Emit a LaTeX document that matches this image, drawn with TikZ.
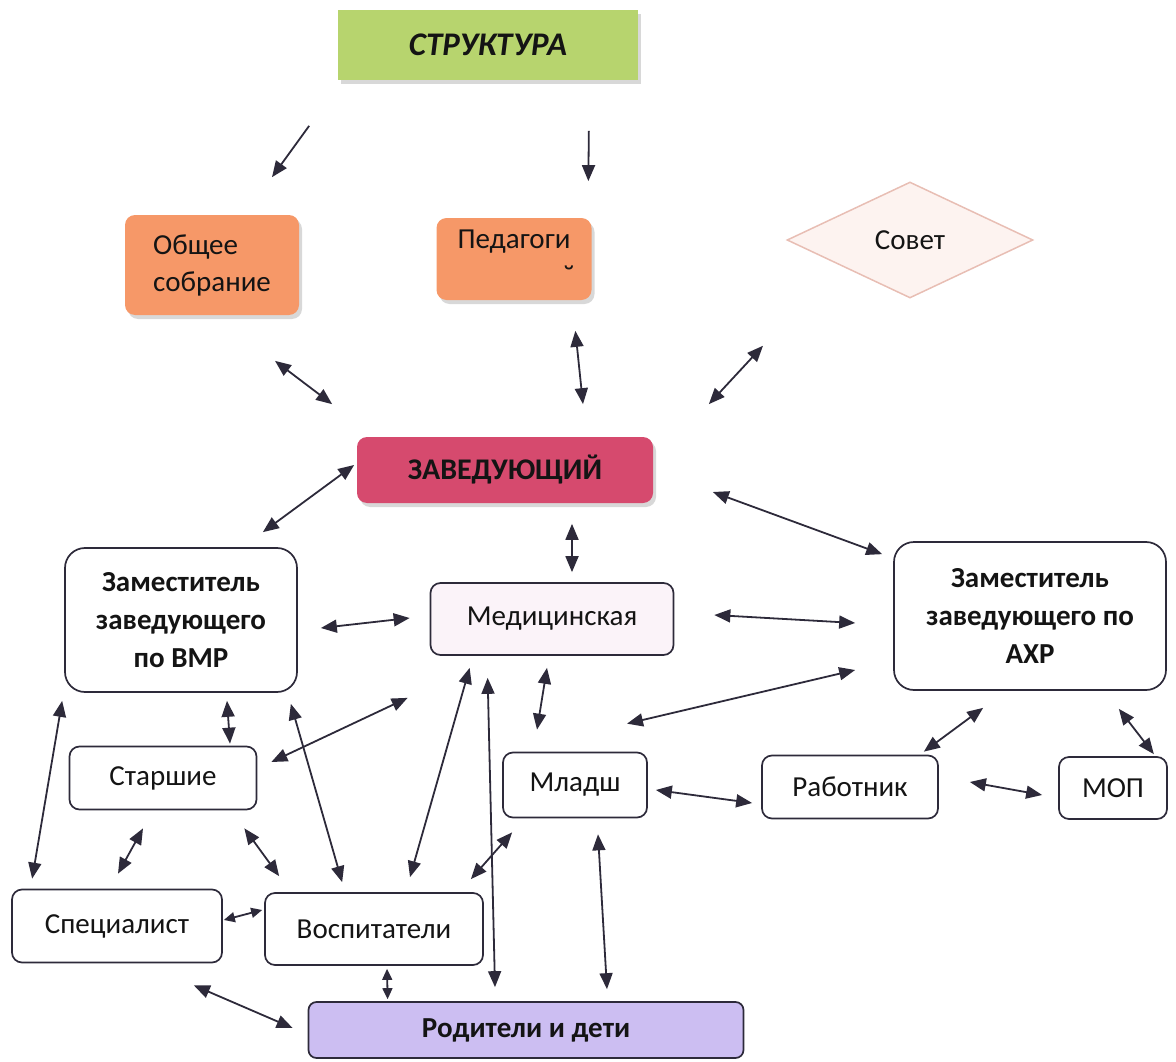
\documentclass[tikz,border=0pt]{standalone}
\usepackage{fontspec}
\setmainfont{Carlito}
\usetikzlibrary{shapes.geometric,arrows.meta,shadows}

\definecolor{strgreen}{RGB}{183,212,110}
\definecolor{orgorange}{RGB}{246,152,104}
\definecolor{headred}{RGB}{214,74,110}
\definecolor{medpink}{RGB}{251,243,249}
\definecolor{famlilac}{RGB}{204,190,242}
\definecolor{sovfill}{RGB}{253,243,240}
\definecolor{sovedge}{RGB}{232,190,180}
\definecolor{inkgray}{RGB}{45,42,58}

\begin{document}
\begin{tikzpicture}[x=1pt, y=-1pt, >={Triangle[length=16pt,width=13pt]}]
	\tikzstyle{block} = [draw=inkgray, line width=1.7pt, rectangle, rounded corners=10pt, fill=white, inner sep=0pt, align=center, text=black!92, font=\fontsize{29}{37}\selectfont]
	\tikzstyle{deputy} = [block, rounded corners=20pt, font=\bfseries\fontsize{29}{38}\selectfont]
	\tikzstyle{tinted} = [block, draw=none, drop shadow={shadow xshift=3pt, shadow yshift=-4pt, fill=black!30}]
	\tikzstyle{link} = [<->, draw=inkgray, line width=1.8pt]
	\tikzstyle{short} = [link, >={Triangle[length=11pt,width=10pt]}]

	\useasboundingbox (0,0) rectangle (1176,1062);

	\node [tinted, rounded corners=0pt, fill=strgreen, minimum width=300pt, minimum height=70pt, font=\bfseries\itshape\fontsize{33}{38}\selectfont] (struct) at (488,45) {СТРУКТУРА};
	\node [tinted, fill=orgorange, minimum width=174pt, minimum height=100pt, align=left] (obshee) at (212,265) {Общее\\собрание};
	\node [tinted, fill=orgorange, minimum width=155pt, minimum height=82pt] (pedagog) at (514,259) {Педагоги\\[2pt]{\fontsize{32}{24}\selectfont\hspace*{110pt}˘}};
	\node [diamond, draw=sovedge, line width=1.5pt, fill=sovfill, minimum width=246pt, minimum height=116pt, inner sep=0pt, text=black!92, font=\fontsize{29}{37}\selectfont] (sovet) at (910,240) {Совет};
	\node [tinted, fill=headred, minimum width=296pt, minimum height=66pt, font=\bfseries\fontsize{30}{34}\selectfont] (zav) at (505,470) {ЗАВЕДУЮЩИЙ};

	\node [deputy, minimum width=232pt, minimum height=144pt] (vmr) at (181,620) {Заместитель\\заведующего\\по ВМР};
	\node [block, fill=medpink, minimum width=243pt, minimum height=72pt] (med) at (552,619) {Медицинская};
	\node [deputy, minimum width=272pt, minimum height=148pt] (ahr) at (1030,616) {Заместитель\\заведующего по\\АХР};

	\node [block, minimum width=187pt, minimum height=63pt] (starsh) at (163,778) {Старшие};
	\node [block, minimum width=144pt, minimum height=65pt] (mladsh) at (575,785) {Младш};
	\node [block, minimum width=176pt, minimum height=63pt] (rabot) at (850,787) {Работник};
	\node [block, minimum width=108pt, minimum height=62pt] (mop) at (1113,788) {МОП};
	\node [block, minimum width=210pt, minimum height=73pt] (spec) at (117,926) {Специалист};
	\node [block, minimum width=218pt, minimum height=72pt] (vosp) at (374,929) {Воспитатели};
	\node [block, fill=famlilac, rounded corners=8pt, minimum width=435pt, minimum height=56pt, font=\bfseries\fontsize{29}{34}\selectfont] (family) at (526,1030) {Родители и дети};

	\draw [->, draw=inkgray, line width=1.8pt] ([shift={(-28,45)}]struct.south west) -- ([shift={(60,-37)}]obshee.north);
	\draw [->, draw=inkgray, line width=1.8pt] ([shift={(-50,50)}]struct.south east) -- ([shift={(-4,-36)}]pedagog.north east);
	\draw [link] ([shift={(63,45)}]obshee.south) -- ([shift={(-24,-32)}]zav.north west);
	\draw [link] ([shift={(-17,30)}]pedagog.south east) -- ([shift={(78,-32)}]zav.north);
	\draw [link] ([shift={(-147,47)}]sovet.south) -- ([shift={(55,-32)}]zav.north east);
	\draw [link] ([shift={(-2,-5)}]zav.west) -- ([shift={(-35,-15)}]vmr.north east);
	\draw [link] ([shift={(67,20)}]zav.south) -- ([shift={(20,-10)}]med.north);
	\draw [link] ([shift={(59,22)}]zav.east) -- ([shift={(-11,13)}]ahr.north west);
	\draw [link] ([shift={(23,8)}]vmr.east) -- ([shift={(-20,-1)}]med.west);
	\draw [link] ([shift={(40,-4)}]med.east) -- ([shift={(-38,7)}]ahr.west);
	\draw [link] ([shift={(-38,54)}]ahr.west) -- ([shift={(52,-28)}]mladsh.north);
	\draw [link] ([shift={(-5,12)}]med.south) -- ([shift={(-38,-22)}]mladsh.north);
	\draw [link] ([shift={(-22,42)}]med.south west) -- ([shift={(14,-16)}]starsh.east);
	\draw [link] ([shift={(40,12)}]med.south west) -- ([shift={(36,-15)}]vosp.north);
	\draw [link] ([shift={(58,22)}]med.south west) -- ([shift={(-31,-14)}]family.north);
	\draw [link] ([shift={(-7,11)}]vmr.south east) -- ([shift={(78,-10)}]vosp.north west);
	\draw [link] ([shift={(46,8)}]vmr.south) -- ([shift={(67,-2)}]starsh.north);
	\draw [link] ([shift={(-2,8)}]vmr.south west) -- ([shift={(21,-10)}]spec.north west);
	\draw [link] ([shift={(-20,18)}]starsh.south) -- ([shift={(1,-15)}]spec.north);
	\draw [link] ([shift={(-13,18)}]starsh.south east) -- ([shift={(15,-16)}]vosp.north west);
	\draw [short] ([shift={(1,-6)}]spec.east) -- ([shift={(-2,-19)}]vosp.west);
	\draw [link] ([shift={(-13,-13)}]vosp.north east) -- ([shift={(10,14)}]mladsh.south west);
	\draw [short] ([shift={(13,3)}]vosp.south) -- ([shift={(80,-2)}]family.north west);
	\draw [link] ([shift={(-29,22)}]spec.south east) -- ([shift={(-15,-2)}]family.west);
	\draw [link] ([shift={(23,16)}]mladsh.south) -- ([shift={(81,-12)}]family.north);
	\draw [link] ([shift={(8,5)}]mladsh.east) -- ([shift={(-9,16)}]rabot.west);
	\draw [link] ([shift={(31,-5)}]rabot.east) -- ([shift={(-16,7)}]mop.west);
	\draw [link] ([shift={(90,17)}]ahr.south west) -- ([shift={(-15,-3)}]rabot.north east);
	\draw [link] ([shift={(-48,18)}]ahr.south east) -- ([shift={(-14,-2)}]mop.north east);
\end{tikzpicture}
\end{document}
